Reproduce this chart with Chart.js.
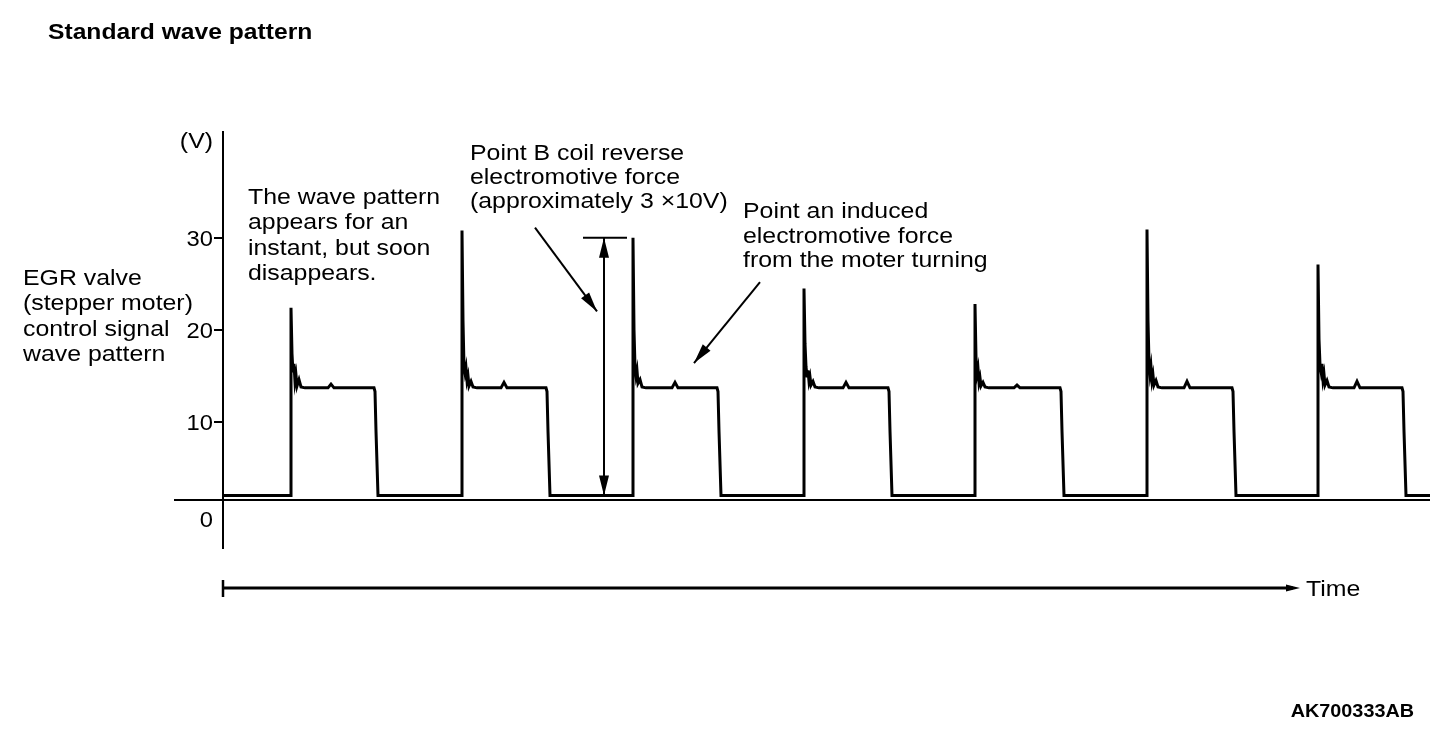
<!DOCTYPE html>
<html>
<head>
<meta charset="utf-8">
<title>Standard wave pattern</title>
<script src="https://cdn.jsdelivr.net/npm/chart.js@4.4.1/dist/chart.umd.min.js"></script>
<style>
  html, body { margin: 0; padding: 0; background: #fff; }
  #wrap { width: 1456px; height: 736px; }
</style>
</head>
<body>
<div id="wrap"><canvas id="waveChart" width="1456" height="736" style="width:1456px;height:736px"></canvas></div>
<script>
// EGR valve (stepper motor) control signal - standard wave pattern
// each pair is [time, volts]; time in arbitrary units, 0 = the V axis

const yTicks = [0, 10, 20, 30];

const leadIn = [[1, 2.0]];
const cycle1 = [[68, 2.0], [68, 22.4], [69, 17.4], [70, 15.4], [71, 16.3], [72, 14.4], [73, 15.1], [74, 13.9], [76, 14.6], [78, 13.8], [82, 13.7], [105, 13.7], [108, 14.1], [111, 13.7], [151, 13.7], [152, 13.3], [153, 9.0], [155, 2.0]];
const cycle2 = [[239, 2.0], [239, 30.8], [240, 21.0], [241, 16.0], [242, 15.3], [243, 15.9], [244, 14.5], [245, 15.0], [246, 13.9], [248, 14.4], [250, 13.8], [254, 13.7], [278, 13.7], [281, 14.3], [284, 13.7], [323, 13.7], [324, 13.3], [325, 9.0], [327, 2.0]];
const cycle3 = [[410, 2.0], [410, 30.0], [411, 20.0], [412, 16.0], [413, 15.0], [414, 15.6], [415, 14.2], [417, 14.6], [419, 13.8], [423, 13.7], [449, 13.7], [452, 14.3], [455, 13.7], [494, 13.7], [495, 13.3], [496, 9.0], [498, 2.0]];
const cycle4 = [[581, 2.0], [581, 24.5], [582, 18.5], [583, 16.0], [584, 15.0], [585, 15.6], [586, 14.4], [587, 14.9], [588, 14.0], [590, 14.4], [592, 13.8], [596, 13.7], [620, 13.7], [623, 14.3], [626, 13.7], [665, 13.7], [666, 13.3], [667, 9.0], [669, 2.0]];
const cycle5 = [[752, 2.0], [752, 22.8], [753, 17.0], [754, 15.2], [755, 15.8], [756, 14.3], [757, 14.8], [758, 13.9], [760, 14.3], [762, 13.8], [766, 13.7], [791, 13.7], [794, 14.0], [797, 13.7], [837, 13.7], [838, 13.3], [839, 9.0], [841, 2.0]];
const cycle6 = [[924, 2.0], [924, 30.9], [925, 21.0], [926, 16.5], [927, 15.2], [928, 16.0], [929, 14.5], [930, 15.1], [931, 14.0], [933, 14.5], [935, 13.8], [939, 13.7], [961, 13.7], [964, 14.4], [967, 13.7], [1009, 13.7], [1010, 13.3], [1011, 9.0], [1013, 2.0]];
const cycle7 = [[1095, 2.0], [1095, 27.1], [1096, 19.0], [1097, 16.2], [1098, 15.5], [1099, 16.3], [1100, 14.6], [1101, 15.2], [1102, 14.0], [1104, 14.5], [1106, 13.8], [1110, 13.7], [1131, 13.7], [1134, 14.4], [1137, 13.7], [1179, 13.7], [1180, 13.3], [1181, 9.0], [1183, 2.0], [1207, 2.0]];

const zeroLineVolts = 1.5;   // level of the drawn reference line

document.addEventListener('DOMContentLoaded', () => {
    const FONT = '"Liberation Sans", Arial, Helvetica, sans-serif';
    const STRETCH = 1.13;

    const wave = [].concat(leadIn, cycle1, cycle2, cycle3, cycle4, cycle5, cycle6, cycle7)
        .map(([t, v]) => ({ x: t, y: v }));

    // =========================================
    // DRAW HELPERS
    // =========================================
    function text(ctx, str, x, y, opts = {}) {
        const size = opts.size || 22;
        const sx = opts.stretch || STRETCH;
        ctx.save();
        ctx.font = (opts.bold ? 'bold ' : '') + size + 'px ' + FONT;
        ctx.fillStyle = '#000';
        ctx.textBaseline = 'alphabetic';
        let left = x;
        if (opts.align === 'right') left = x - ctx.measureText(str).width * sx;
        ctx.translate(left, y);
        ctx.scale(sx, 1);
        ctx.fillText(str, 0, 0);
        ctx.restore();
    }

    function arrowHead(ctx, x1, y1, x2, y2, len, half) {
        const a = Math.atan2(y2 - y1, x2 - x1);
        ctx.beginPath();
        ctx.moveTo(x2, y2);
        ctx.lineTo(x2 - len * Math.cos(a) + half * Math.sin(a), y2 - len * Math.sin(a) - half * Math.cos(a));
        ctx.lineTo(x2 - len * Math.cos(a) - half * Math.sin(a), y2 - len * Math.sin(a) + half * Math.cos(a));
        ctx.closePath();
        ctx.fill();
    }

    function arrow(ctx, x1, y1, x2, y2, both) {
        ctx.beginPath();
        ctx.moveTo(x1, y1);
        ctx.lineTo(x2, y2);
        ctx.stroke();
        arrowHead(ctx, x1, y1, x2, y2, 20, 5);
        if (both) arrowHead(ctx, x2, y2, x1, y1, 20, 5);
    }

    // =========================================
    // ANNOTATIONS PLUGIN
    // =========================================
    const annotations = {
        id: 'annotations',
        afterDraw(chart) {
            const { ctx, chartArea } = chart;
            const xs = chart.scales.x;
            const ys = chart.scales.y;
            const px = (t) => xs.getPixelForValue(t);
            const py = (v) => ys.getPixelForValue(v);

            ctx.save();
            ctx.strokeStyle = '#000';
            ctx.fillStyle = '#000';
            ctx.lineWidth = 2;

            // Point B arrow + 30V span
            arrow(ctx, px(312), py(31.1), px(374), py(22.0));
            arrow(ctx, px(381), py(30.0), px(381), py(2.0), true);
            ctx.beginPath();
            ctx.moveTo(px(360), py(30.0));
            ctx.lineTo(px(404), py(30.0));
            ctx.stroke();

            // induced emf arrow
            arrow(ctx, px(537), py(25.2), px(471), py(16.4));

            // time axis
            const ty = chartArea.bottom + 40;
            ctx.lineWidth = 3;
            ctx.beginPath();
            ctx.moveTo(px(0), ty);
            ctx.lineTo(px(1070), ty);
            ctx.stroke();
            ctx.lineWidth = 2.5;
            ctx.beginPath();
            ctx.moveTo(px(0), ty - 8);
            ctx.lineTo(px(0), ty + 9);
            ctx.stroke();
            arrowHead(ctx, px(1060), ty, px(1077), ty, 14, 3.5);
            ctx.restore();

            // y tick labels, placed from the scale
            const axisX = px(0);
            yTicks.forEach(v => text(ctx, String(v), axisX - 10, py(v) + 8 + (v === 0 ? 5 : 0), { align: 'right', stretch: 1.08 }));

            // texts
            text(ctx, 'Standard wave pattern', 48, 39, { bold: true, stretch: 1.12 });
            text(ctx, '(V)', 213, 148, { align: 'right' });

            ['EGR valve', '(stepper moter)', 'control signal', 'wave pattern']
                .forEach((s, i) => text(ctx, s, 23, 285 + i * 25.3));
            ['The wave pattern', 'appears for an', 'instant, but soon', 'disappears.']
                .forEach((s, i) => text(ctx, s, 248, 204 + i * 25.3));
            ['Point B coil reverse', 'electromotive force', '(approximately 3 \u00d710V)']
                .forEach((s, i) => text(ctx, s, 470, 160 + i * 24));
            ['Point an induced', 'electromotive force', 'from the moter turning']
                .forEach((s, i) => text(ctx, s, 743, 218 + i * 24.5));

            text(ctx, 'Time', 1306, 596);
            text(ctx, 'AK700333AB', 1414, 717, { bold: true, size: 18, stretch: 1.1, align: 'right' });
        }
    };

    // =========================================
    // CHART
    // =========================================
    new Chart(document.getElementById('waveChart'), {
        type: 'line',
        data: {
            datasets: [{
                label: 'Control signal',
                data: wave,
                borderColor: '#000',
                borderWidth: 3,
                pointRadius: 0,
                tension: 0,
                fill: false
            }]
        },
        options: {
            responsive: false,
            animation: false,
            devicePixelRatio: 1,
            layout: { padding: { left: 175, right: 26, top: 132, bottom: 188 } },
            plugins: {
                legend: { display: false },
                tooltip: { enabled: false }
            },
            scales: {
                x: {
                    type: 'linear',
                    min: -48,
                    max: 1207,
                    position: { y: zeroLineVolts },
                    ticks: { display: false },
                    grid: { display: true, drawOnChartArea: false, drawTicks: false, lineWidth: 0 },
                    border: { display: true, color: '#000', width: 2 }
                },
                y: {
                    type: 'linear',
                    min: -3.7,
                    max: 41.5,
                    position: { x: 0 },
                    afterBuildTicks: (scale) => { scale.ticks = yTicks.map(v => ({ value: v })); },
                    ticks: { display: false },
                    grid: {
                        display: true,
                        drawOnChartArea: false,
                        drawTicks: true,
                        tickLength: 8,
                        lineWidth: 2,
                        color: (c) => (c.tick && c.tick.value === 0) ? 'rgba(0,0,0,0)' : '#000'
                    },
                    border: { display: true, color: '#000', width: 2 }
                }
            }
        },
        plugins: [annotations]
    });
});
</script>
</body>
</html>
